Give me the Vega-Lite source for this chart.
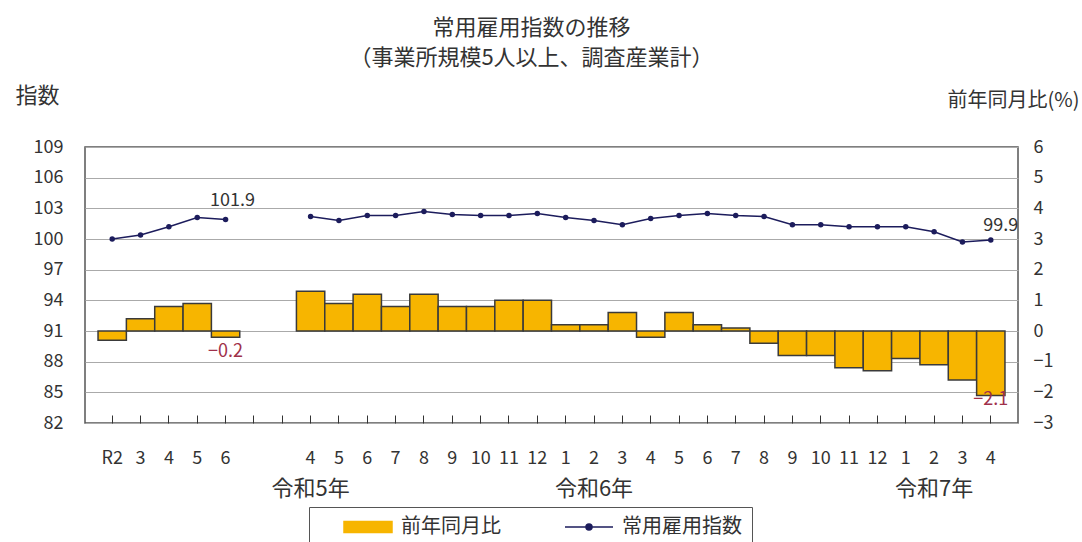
{
  "$schema": "https://vega.github.io/schema/vega-lite/v6.json",
  "width": 933,
  "height": 276,
  "autosize": {"type": "none"},
  "padding": {"left": 85, "top": 147, "right": 64, "bottom": 119},
  "config": {
    "font": "Noto Sans CJK JP",
    "view": {"stroke": "#555", "strokeWidth": 1.5},
    "axis": {"labelColor": "#333", "titleColor": "#333", "labelFont": "Noto Sans CJK JP", "titleFont": "Noto Sans CJK JP"},
    "legend": {
      "orient": "none",
      "legendX": 224,
      "legendY": 360,
      "direction": "horizontal",
      "padding": 10,
      "strokeColor": "#555",
      "fillColor": "#ffffff",
      "labelFontSize": 20,
      "labelColor": "#333",
      "labelFont": "Noto Sans CJK JP",
      "symbolSize": 100,
      "symbolOffset": 39,
      "labelOffset": 23,
      "columnPadding": 39
    }
  },
  "title": {
    "text": ["常用雇用指数の推移", "（事業所規模5人以上、調査産業計）"],
    "fontSize": 22,
    "fontWeight": "normal",
    "color": "#333",
    "anchor": "middle",
    "frame": "group",
    "dx": -20,
    "offset": 14,
    "lineHeight": 30
  },
  "data": {
    "values": [
      {"period": "2020", "grp": "a", "index": 100.0, "yoy": -0.3},
      {"period": "2021", "grp": "a", "index": 100.4, "yoy": 0.4},
      {"period": "2022", "grp": "a", "index": 101.2, "yoy": 0.8},
      {"period": "2023", "grp": "a", "index": 102.1, "yoy": 0.9},
      {"period": "2024", "grp": "a", "index": 101.9, "yoy": -0.2},
      {"period": "2023-04", "grp": "b", "index": 102.2, "yoy": 1.3},
      {"period": "2023-05", "grp": "b", "index": 101.8, "yoy": 0.9},
      {"period": "2023-06", "grp": "b", "index": 102.3, "yoy": 1.2},
      {"period": "2023-07", "grp": "b", "index": 102.3, "yoy": 0.8},
      {"period": "2023-08", "grp": "b", "index": 102.7, "yoy": 1.2},
      {"period": "2023-09", "grp": "b", "index": 102.4, "yoy": 0.8},
      {"period": "2023-10", "grp": "b", "index": 102.3, "yoy": 0.8},
      {"period": "2023-11", "grp": "b", "index": 102.3, "yoy": 1.0},
      {"period": "2023-12", "grp": "b", "index": 102.5, "yoy": 1.0},
      {"period": "2024-01", "grp": "b", "index": 102.1, "yoy": 0.2},
      {"period": "2024-02", "grp": "b", "index": 101.8, "yoy": 0.2},
      {"period": "2024-03", "grp": "b", "index": 101.4, "yoy": 0.6},
      {"period": "2024-04", "grp": "b", "index": 102.0, "yoy": -0.2},
      {"period": "2024-05", "grp": "b", "index": 102.3, "yoy": 0.6},
      {"period": "2024-06", "grp": "b", "index": 102.5, "yoy": 0.2},
      {"period": "2024-07", "grp": "b", "index": 102.3, "yoy": 0.1},
      {"period": "2024-08", "grp": "b", "index": 102.2, "yoy": -0.4},
      {"period": "2024-09", "grp": "b", "index": 101.4, "yoy": -0.8},
      {"period": "2024-10", "grp": "b", "index": 101.4, "yoy": -0.8},
      {"period": "2024-11", "grp": "b", "index": 101.2, "yoy": -1.2},
      {"period": "2024-12", "grp": "b", "index": 101.2, "yoy": -1.3},
      {"period": "2025-01", "grp": "b", "index": 101.2, "yoy": -0.9},
      {"period": "2025-02", "grp": "b", "index": 100.7, "yoy": -1.1},
      {"period": "2025-03", "grp": "b", "index": 99.7, "yoy": -1.6},
      {"period": "2025-04", "grp": "b", "index": 99.9, "yoy": -2.1}
    ]
  },
  "layer": [
    {
      "layer": [
        {
          "mark": {"type": "bar", "stroke": "#3a3a3a", "strokeWidth": 1.5},
          "encoding": {
            "x": {
              "field": "period",
              "type": "ordinal",
              "scale": {
                "type": "band",
                "domain": ["2020", "2021", "2022", "2023", "2024", "gap1", "gap2", "2023-04", "2023-05", "2023-06", "2023-07", "2023-08", "2023-09", "2023-10", "2023-11", "2023-12", "2024-01", "2024-02", "2024-03", "2024-04", "2024-05", "2024-06", "2024-07", "2024-08", "2024-09", "2024-10", "2024-11", "2024-12", "2025-01", "2025-02", "2025-03", "2025-04"],
                "paddingInner": 0,
                "paddingOuter": 0.46
              },
              "axis": {
                "orient": "bottom",
                "title": null,
                "labelExpr": "datum.value == '2020' ? 'R2' : indexof(datum.value, 'gap') == 0 ? '' : length(datum.value) == 4 ? toString(toNumber(datum.value) - 2018) : toString(toNumber(substring(datum.value, 5, 7)))",
                "labelAngle": 0,
                "labelOverlap": false,
                "labelFontSize": 18,
                "labelPadding": 34,
                "ticks": true,
                "tickSize": -8,
                "tickColor": "#333",
                "domain": false,
                "grid": false
              }
            },
            "y": {
              "field": "yoy",
              "type": "quantitative",
              "scale": {"domain": [-3, 6], "nice": false, "zero": false},
              "axis": {
                "orient": "right",
                "values": [-3, -2, -1, 0, 1, 2, 3, 4, 5, 6],
                "tickCount": 12,
                "format": "d",
                "labelOverlap": false,
                "labelBound": false,
                "labelFlush": false,
                "grid": false,
                "ticks": false,
                "domain": false,
                "labelPadding": 15,
                "labelFontSize": 18,
                "title": "前年同月比(%)",
                "titleAngle": 0,
                "titleX": -71,
                "titleY": -47,
                "titleAlign": "left",
                "titleBaseline": "middle",
                "titleFontSize": 20,
                "titleFontWeight": "normal"
              }
            },
            "y2": {"datum": 0},
            "color": {
              "datum": "前年同月比",
              "type": "nominal",
              "scale": {"domain": ["前年同月比", "常用雇用指数"], "range": ["#F7B500", "#1c1c5c"]},
              "legend": {
                "title": null,
                "encode": {
                  "symbols": {
                    "update": {
                      "shape": {"signal": "datum.value === '前年同月比' ? 'M-4.8,-1.1H4.8V1.1H-4.8Z' : 'M-4.8,0H4.8M-0.6,0A0.6,0.6,0,1,1,0.6,0A0.6,0.6,0,1,1,-0.6,0Z'"},
                      "fill": {"signal": "datum.value === '前年同月比' ? '#F7B500' : '#1c1c5c'"},
                      "stroke": {"signal": "datum.value === '前年同月比' ? '#3a3a3a' : '#1c1c5c'"},
                      "strokeWidth": {"value": 1.5},
                      "opacity": {"value": 1},
                      "fillOpacity": {"value": 1}
                    }
                  }
                }
              }
            }
          }
        },
        {
          "transform": [{"filter": "datum.period == '2024'"}],
          "mark": {"type": "text", "dy": 15, "fontSize": 18, "color": "#a0304a"},
          "encoding": {
            "x": {"field": "period", "type": "ordinal"},
            "y": {"field": "yoy", "type": "quantitative"},
            "text": {"field": "yoy", "type": "quantitative", "format": ".1f"}
          }
        },
        {
          "transform": [{"filter": "datum.period == '2025-04'"}],
          "mark": {"type": "text", "dy": 5, "fontSize": 18, "color": "#a0304a"},
          "encoding": {
            "x": {"field": "period", "type": "ordinal"},
            "y": {"field": "yoy", "type": "quantitative"},
            "text": {"field": "yoy", "type": "quantitative", "format": ".1f"}
          }
        }
      ]
    },
    {
      "layer": [
        {
          "mark": {"type": "line", "strokeWidth": 1.5, "point": {"filled": true, "size": 30}},
          "encoding": {
            "x": {
              "field": "period",
              "type": "ordinal",
              "axis": {
                "orient": "bottom",
                "title": null,
                "labelExpr": "datum.value == '2023-04' ? '令和5年' : datum.value == '2024-02' ? '令和6年' : datum.value == '2025-02' ? '令和7年' : ''",
                "labelAngle": 0,
                "labelOverlap": false,
                "labelFontSize": 22,
                "labelPadding": 55,
                "ticks": false,
                "domain": false,
                "grid": false
              }
            },
            "y": {
              "field": "index",
              "type": "quantitative",
              "scale": {"domain": [82, 109], "nice": false, "zero": false},
              "axis": {
                "orient": "left",
                "values": [82, 85, 88, 91, 94, 97, 100, 103, 106, 109],
                "tickCount": 12,
                "labelOverlap": false,
                "labelBound": false,
                "labelFlush": false,
                "grid": true,
                "gridColor": "#aaa",
                "ticks": false,
                "domain": false,
                "labelPadding": 22,
                "labelFontSize": 18,
                "title": "指数",
                "titleAngle": 0,
                "titleX": -70,
                "titleY": -52,
                "titleAlign": "left",
                "titleBaseline": "middle",
                "titleFontSize": 22,
                "titleFontWeight": "normal"
              }
            },
            "detail": {"field": "grp"},
            "color": {
              "datum": "常用雇用指数",
              "type": "nominal",
              "legend": {
                "title": null,
                "encode": {
                  "symbols": {
                    "update": {
                      "shape": {"signal": "datum.value === '前年同月比' ? 'M-4.8,-1.1H4.8V1.1H-4.8Z' : 'M-4.8,0H4.8M-0.6,0A0.6,0.6,0,1,1,0.6,0A0.6,0.6,0,1,1,-0.6,0Z'"},
                      "fill": {"signal": "datum.value === '前年同月比' ? '#F7B500' : '#1c1c5c'"},
                      "stroke": {"signal": "datum.value === '前年同月比' ? '#3a3a3a' : '#1c1c5c'"},
                      "strokeWidth": {"value": 1.5},
                      "opacity": {"value": 1},
                      "fillOpacity": {"value": 1}
                    }
                  }
                }
              }
            }
          }
        },
        {
          "transform": [{"filter": "datum.period == '2024'"}],
          "mark": {"type": "text", "dx": 7, "dy": -19, "fontSize": 18, "color": "#333"},
          "encoding": {
            "x": {"field": "period", "type": "ordinal"},
            "y": {"field": "index", "type": "quantitative"},
            "text": {"field": "index", "type": "quantitative", "format": ".1f"}
          }
        },
        {
          "transform": [{"filter": "datum.period == '2025-04'"}],
          "mark": {"type": "text", "dx": 10, "dy": -14, "fontSize": 18, "color": "#333"},
          "encoding": {
            "x": {"field": "period", "type": "ordinal"},
            "y": {"field": "index", "type": "quantitative"},
            "text": {"field": "index", "type": "quantitative", "format": ".1f"}
          }
        }
      ]
    }
  ],
  "resolve": {"scale": {"y": "independent"}, "axis": {"x": "independent"}}
}
